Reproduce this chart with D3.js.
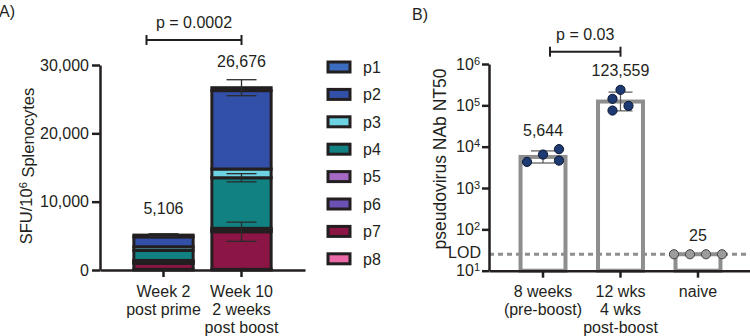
<!DOCTYPE html>
<html>
<head>
<meta charset="utf-8">
<script src="https://cdn.jsdelivr.net/npm/d3@7"></script>
<style>
  html, body { margin: 0; padding: 0; background: #fff; }
  svg text { font-family: "Liberation Sans", Arial, sans-serif; fill: #231f20; }
</style>
</head>
<body>
<div id="chart"></div>
<script>
// ---- Panel A data: ELISpot stacked bars ----
const sfuGroups = [["Week 2", "post prime"], ["Week 10", "2 weeks", "post boost"]];
const sfuKeys = ["p1", "p2", "p3", "p4", "p5", "p6", "p7", "p8"];
const sfuWeek2 = [256, 1450, 530, 1470, 220, 220, 860, 100];
const sfuWeek10 = [426, 11470, 1280, 7400, 250, 250, 5500, 100];
const sfuErrWeek2 = [200, 0, 0, 0, 0, 0, 0, 0];
const sfuErrWeek10 = [1170, 0, 0, 600, 0, 0, 1400, 0];
const sfuTotals = [5106, 26676];
const sfuTicks = [0, 10000, 20000, 30000];
const sfuPText = "p = 0.0002";
const sfuColors = ["#3b6cc0", "#3250a8", "#6dd2e2", "#128182", "#a469c2", "#6a51b3", "#8b1544", "#ea6aa8"];

// ---- Panel B data: pseudovirus neutralisation ----
const nabGroups = [["8 weeks", "(pre-boost)"], ["12 wks", "4 wks", "post-boost"], ["naive"]];
const nabMean = [5644, 123559, 25];
const nabErrLow = [4030, 73600, 25];
const nabErrHigh = [7900, 209000, 25];
const nabPoints = [
  [6440, 8700, 4605, 4285],
  [143600, 237000, 74800, 97000],
  [25, 25, 25, 25]
];
const nabTicks = [10, 100, 1000, 10000, 100000, 1000000];
const nabLOD = 25;
const nabPText = "p = 0.03";

const width = 750, height = 336;
const ink = "#231f20";
const fmt = d3.format(",");

const svg = d3.select("#chart").append("svg")
  .attr("width", width)
  .attr("height", height);

// =================== Panel A ===================
svg.append("text").attr("x", -1).attr("y", 17).attr("font-size", 16).text("A)");

const groupIds = sfuGroups.map(g => g.join(" "));
const xA = d3.scaleBand()
  .domain(groupIds)
  .range([100, 305])
  .paddingInner(0.24)
  .paddingOuter(0.434);

const yA = d3.scaleLinear().domain([0, 30000]).range([270, 65]);

// rows for d3.stack (p8 sits at the bottom)
const rows = [sfuWeek2, sfuWeek10].map((vals, i) => {
  const r = { group: groupIds[i] };
  sfuKeys.forEach((k, j) => r[k] = vals[j]);
  return r;
});
const errs = [sfuErrWeek2, sfuErrWeek10];
const stackKeys = sfuKeys.slice().reverse();
const series = d3.stack().keys(stackKeys)(rows);

const gA = svg.append("g");

series.forEach(s => {
  const ci = sfuKeys.indexOf(s.key);
  gA.selectAll(null)
    .data(s)
    .enter().append("rect")
    .attr("x", d => xA(d.data.group))
    .attr("width", xA.bandwidth())
    .attr("y", d => yA(d[1]))
    .attr("height", d => Math.max(0, yA(d[0]) - yA(d[1])))
    .attr("fill", sfuColors[ci])
    .attr("stroke", ink)
    .attr("stroke-width", 3);
});

// error bars at the top of each segment
series.forEach(s => {
  const ci = sfuKeys.indexOf(s.key);
  s.forEach((d, gi) => {
    const e = errs[gi][ci];
    if (!e) return;
    const cx = xA(d.data.group) + xA.bandwidth() / 2;
    const eb = gA.append("g").attr("stroke", "#2b2b2b").attr("stroke-width", 1.3);
    eb.append("line").attr("x1", cx).attr("x2", cx).attr("y1", yA(d[1] + e)).attr("y2", yA(d[1] - e));
    [d[1] + e, d[1] - e].forEach(v => {
      eb.append("line").attr("x1", cx - 15).attr("x2", cx + 15).attr("y1", yA(v)).attr("y2", yA(v));
    });
  });
});

// axes
const axA = gA.append("g")
  .attr("transform", "translate(100,0)")
  .call(d3.axisLeft(yA).tickValues(sfuTicks).tickFormat(fmt).tickSize(8).tickPadding(3).tickSizeOuter(0));
const axAx = gA.append("g")
  .attr("transform", "translate(0,270)")
  .call(d3.axisBottom(xA).tickSize(7).tickSizeOuter(0));
[axA, axAx].forEach(ax => {
  ax.selectAll("path, line").attr("stroke", ink).attr("stroke-width", 2.5);
  ax.selectAll("text").attr("font-size", 16).attr("font-family", null);
});
axAx.selectAll(".tick text").each(function(d, i) {
  const t = d3.select(this).text(null).attr("dy", null).attr("y", 0);
  sfuGroups[i].forEach((line, j) => {
    t.append("tspan").attr("x", 0).attr("y", 27 + j * 18).text(line);
  });
});

// y label
const ylA = gA.append("text")
  .attr("transform", "rotate(-90)")
  .attr("x", -166)
  .attr("y", 32)
  .attr("text-anchor", "middle")
  .attr("font-size", 16.5);
ylA.append("tspan").text("SFU/10");
ylA.append("tspan").attr("dy", "-0.45em").attr("font-size", 11).text("6");
ylA.append("tspan").attr("dy", "0.45em").text(" Splenocytes");

// totals
gA.selectAll(null)
  .data(sfuTotals)
  .enter().append("text")
  .attr("x", (d, i) => xA(groupIds[i]) + xA.bandwidth() / 2)
  .attr("y", d => yA(d) - 21)
  .attr("text-anchor", "middle")
  .attr("font-size", 16)
  .text(d => fmt(d));

// significance bracket
function bracket(g, x1, x2, y, label) {
  const b = g.append("g").attr("stroke", ink).attr("stroke-width", 2);
  b.append("line").attr("x1", x1).attr("x2", x2).attr("y1", y).attr("y2", y);
  b.append("line").attr("x1", x1).attr("x2", x1).attr("y1", y - 5).attr("y2", y + 5);
  b.append("line").attr("x1", x2).attr("x2", x2).attr("y1", y - 5).attr("y2", y + 5);
  g.append("text").attr("x", (x1 + x2) / 2).attr("y", y - 12)
    .attr("text-anchor", "middle").attr("font-size", 16).text(label);
}
const cA = groupIds.map(g => xA(g) + xA.bandwidth() / 2);
bracket(gA, cA[0] - 17, cA[1], 40, sfuPText);

// legend
const legA = gA.append("g").attr("transform", "translate(328,67)");
sfuKeys.forEach((k, i) => {
  const row = legA.append("g").attr("transform", `translate(0,${i * 27.4})`);
  row.append("rect").attr("x", 0).attr("y", -5).attr("width", 22).attr("height", 10)
    .attr("fill", sfuColors[i]).attr("stroke", ink).attr("stroke-width", 3);
  row.append("text").attr("x", 35).attr("dy", "0.36em").attr("font-size", 16).text(k);
});

// =================== Panel B ===================
svg.append("text").attr("x", 412).attr("y", 20).attr("font-size", 16).text("B)");

const nabIds = nabGroups.map(g => g.join(" "));
const xB = d3.scaleBand()
  .domain(nabIds)
  .range([489, 752])
  .paddingInner(0.42)
  .paddingOuter(0.407);
const yB = d3.scaleLog().domain([10, 1e6]).range([270.7, 64]);
const gB = svg.append("g");
const cB = nabIds.map(g => xB(g) + xB.bandwidth() / 2);

// bars
gB.selectAll(null)
  .data(nabMean)
  .enter().append("rect")
  .attr("x", (d, i) => xB(nabIds[i]))
  .attr("width", xB.bandwidth())
  .attr("y", d => yB(d))
  .attr("height", d => yB(10) - yB(d))
  .attr("fill", "#fff")
  .attr("stroke", "#8e8e8e")
  .attr("stroke-width", 4);

// limit of detection
gB.append("line")
  .attr("x1", 489).attr("x2", width)
  .attr("y1", yB(nabLOD)).attr("y2", yB(nabLOD))
  .attr("stroke", "#8e8e8e")
  .attr("stroke-width", 3)
  .attr("stroke-dasharray", "5,4");

// error bars
nabMean.forEach((m, i) => {
  if (nabErrHigh[i] === nabErrLow[i]) return;
  const eb = gB.append("g").attr("stroke", "#555").attr("stroke-width", 1.2);
  eb.append("line").attr("x1", cB[i]).attr("x2", cB[i]).attr("y1", yB(nabErrHigh[i])).attr("y2", yB(nabErrLow[i]));
  [nabErrHigh[i], nabErrLow[i]].forEach(v => {
    eb.append("line").attr("x1", cB[i] - 12).attr("x2", cB[i] + 12).attr("y1", yB(v)).attr("y2", yB(v));
  });
});

// scatter: simple swarm so dots do not overlap
function swarm(vals, cx) {
  const cands = [0];
  for (let k = 1; k <= 6; k++) cands.push(8 * k, -8 * k);
  const placed = [];
  vals.forEach(v => {
    const y = yB(v);
    for (const c of cands) {
      if (placed.every(p => Math.hypot(p.dx - c, p.y - y) >= 11)) {
        placed.push({ v: v, y: y, dx: c });
        break;
      }
    }
  });
  const mid = (d3.min(placed, p => p.dx) + d3.max(placed, p => p.dx)) / 2;
  placed.forEach(p => p.x = cx + p.dx - mid);
  return placed;
}
const dotTops = [];
nabPoints.forEach((vals, i) => {
  const pts = swarm(vals, cB[i]);
  dotTops.push(d3.min(pts, p => p.y) - 4.6);
  gB.selectAll(null)
    .data(pts)
    .enter().append("circle")
    .attr("cx", p => p.x)
    .attr("cy", p => p.y)
    .attr("r", 4.6)
    .attr("fill", i === 2 ? "#9c9c9c" : "#1d3a73")
    .attr("stroke", i === 2 ? "#444" : "#0e1630")
    .attr("stroke-width", 1);
});

// mean labels
gB.selectAll(null)
  .data(nabMean)
  .enter().append("text")
  .attr("x", (d, i) => cB[i])
  .attr("y", (d, i) => Math.min(dotTops[i], yB(nabErrHigh[i])) - 9)
  .attr("text-anchor", "middle")
  .attr("font-size", 16)
  .text(d => fmt(d));

// axes
const axB = gB.append("g")
  .attr("transform", "translate(489,0)")
  .call(d3.axisLeft(yB).tickValues(nabTicks).tickSize(7).tickPadding(2).tickSizeOuter(0));
const axBx = gB.append("g")
  .attr("transform", `translate(0,${yB(10)})`)
  .call(d3.axisBottom(xB).tickSize(7).tickSizeOuter(0));
[axB, axBx].forEach(ax => {
  ax.selectAll("path, line").attr("stroke", ink).attr("stroke-width", 2.5);
  ax.selectAll("text").attr("font-size", 16).attr("font-family", null);
});
axB.selectAll(".tick text").each(function(d) {
  const t = d3.select(this).text("10");
  t.append("tspan").attr("dy", "-0.45em").attr("font-size", 11).text(Math.round(Math.log10(d)));
});
axBx.selectAll(".tick text").each(function(d, i) {
  const t = d3.select(this).text(null).attr("dy", null).attr("y", 0);
  nabGroups[i].forEach((line, j) => {
    t.append("tspan").attr("x", 0).attr("y", 26 + j * 18).text(line);
  });
});
gB.append("text")
  .attr("x", 481).attr("y", yB(nabLOD) - 2).attr("dy", "0.36em")
  .attr("text-anchor", "end").attr("font-size", 16).text("LOD");

gB.append("text")
  .attr("transform", "rotate(-90)")
  .attr("x", -159)
  .attr("y", 446)
  .attr("text-anchor", "middle")
  .attr("font-size", 17.5)
  .text("pseudovirus NAb NT50");

bracket(gB, cB[0] + 7, cB[1], 51.7, nabPText);
</script>
</body>
</html>
